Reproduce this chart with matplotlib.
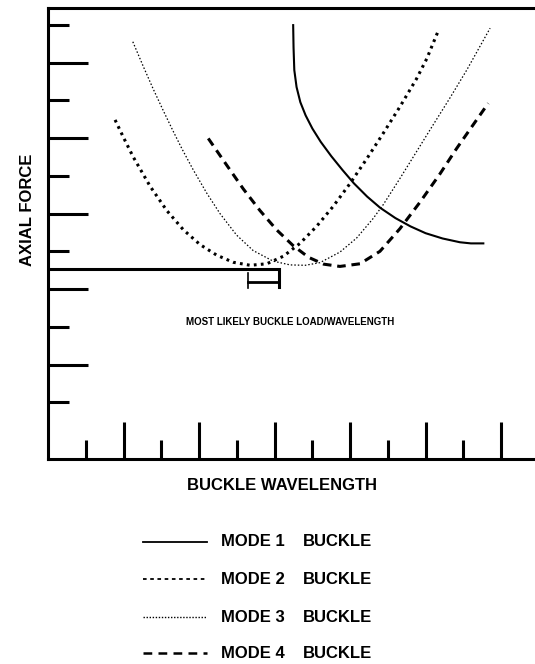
import matplotlib
matplotlib.use('Agg')
import matplotlib.pyplot as plt
from matplotlib.lines import Line2D

plt.rcParams['font.family'] = ['Liberation Sans', 'DejaVu Sans']

# buckle wavelength / axial force for each mode
mode1_x = [6.49, 6.50, 6.52, 6.58, 6.68, 6.82, 7.00, 7.22, 7.50, 7.80, 8.10, 8.45,
           8.80, 9.20, 9.60, 10.00, 10.45, 10.91, 11.20, 11.53]
mode1_y = [11.49, 10.90, 10.30, 9.85, 9.45, 9.10, 8.75, 8.40, 8.02, 7.65, 7.30, 6.95,
           6.65, 6.38, 6.16, 5.98, 5.84, 5.74, 5.71, 5.71]

mode2_x = [1.77, 2.00, 2.25, 2.70, 3.14, 3.58, 4.02, 4.46, 4.90, 5.35, 5.79, 6.23,
           6.67, 7.11, 7.55, 8.00, 8.44, 8.88, 9.32, 9.76, 10.03, 10.34]
mode2_y = [8.98, 8.50, 8.00, 7.22, 6.58, 6.07, 5.68, 5.40, 5.21, 5.13, 5.17, 5.37,
           5.71, 6.16, 6.69, 7.30, 7.95, 8.63, 9.33, 10.07, 10.60, 11.35]

mode3_x = [2.24, 2.52, 2.78, 3.05, 3.30, 3.55, 3.84, 4.20, 4.55, 4.99, 5.43, 5.96,
           6.41, 6.81, 7.20, 7.73, 8.17, 8.61, 8.88, 9.32, 9.76, 10.20, 10.65, 11.09, 11.71]
mode3_y = [11.05, 10.39, 9.80, 9.22, 8.70, 8.20, 7.66, 7.04, 6.50, 5.93, 5.52, 5.24,
           5.14, 5.13, 5.20, 5.48, 5.85, 6.37, 6.74, 7.43, 8.14, 8.85, 9.57, 10.30, 11.41]

mode4_x = [4.24, 4.73, 5.17, 5.61, 6.05, 6.49, 6.90, 7.30, 7.73, 8.26, 8.79, 9.32,
           9.85, 10.38, 10.82, 11.26, 11.66]
mode4_y = [8.49, 7.78, 7.15, 6.58, 6.07, 5.65, 5.34, 5.16, 5.10, 5.17, 5.50, 6.10,
           6.80, 7.55, 8.22, 8.85, 9.42]

# most likely buckle load and the wavelength band that goes with it
likely_load = 5.02
likely_drop = 4.56
likely_band = [5.30, 6.12]
band_level = 4.70
band_lo, band_hi = 4.52, 4.92

legend_labels = ['MODE 1', 'MODE 2', 'MODE 3', 'MODE 4']

W, H = 535, 664
fig = plt.figure(figsize=(W / 100, H / 100), dpi=100)
ax = fig.add_axes([48.3 / W, 1 - 459 / H, 1 - 48.3 / W, (459 - 8) / H])

styles = [
    dict(color='black', lw=1.5, ls='-'),
    dict(color='black', lw=2.2, ls=(0, (0.9, 1.4))),
    dict(color='black', lw=0.9, ls=(0, (1.2, 1.6))),
    dict(color='black', lw=2.2, ls=(0, (2.8, 1.9))),
]
legend_ls = ['-', (0, (2.0, 2.0)), (0, (1.0, 1.2)), (0, (3.5, 2.5))]
legend_lw = [1.3, 1.3, 1.0, 1.8]

for (xs, ys), st in zip([(mode1_x, mode1_y), (mode2_x, mode2_y),
                         (mode3_x, mode3_y), (mode4_x, mode4_y)], styles):
    ax.plot(xs, ys, **st)

# load line and wavelength bracket
ax.plot([0, likely_band[1], likely_band[1]], [likely_load, likely_load, likely_drop],
        color='black', lw=2.2, solid_joinstyle='miter')
ax.plot(likely_band, [band_level, band_level], color='black', lw=2.0)
ax.plot([likely_band[0], likely_band[0]], [band_lo, band_hi], color='black', lw=1.2)

ax.text(6.4, 3.62, 'MOST LIKELY BUCKLE LOAD/WAVELENGTH', fontsize=7,
        fontweight='heavy', ha='center', va='center')

ax.set_xlim(0, (W - 48.3) / 37.73)
ax.set_ylim(0, (459 - 8) / 37.76)

ax.set_xticks(range(2, 13, 2))
ax.set_xticks(range(1, 12, 2), minor=True)
ax.set_yticks([2.5, 4.5, 6.5, 8.5, 10.5])
ax.set_yticks([1.5, 3.5, 5.5, 7.5, 9.5, 11.5], minor=True)
ax.tick_params(axis='x', which='major', direction='in', length=27, width=2.2, labelbottom=False)
ax.tick_params(axis='x', which='minor', direction='in', length=14, width=2.2)
ax.tick_params(axis='y', which='major', direction='in', length=29, width=2.2, labelleft=False)
ax.tick_params(axis='y', which='minor', direction='in', length=15, width=2.2)

for side in ['left', 'top', 'bottom']:
    ax.spines[side].set_linewidth(2.2)
ax.spines['right'].set_visible(False)

fig.text(28 / W, 1 - 210 / H, 'AXIAL FORCE', rotation=90, fontsize=12,
         fontweight='bold', ha='center', va='center')
fig.text(282 / W, 1 - 486 / H, 'BUCKLE WAVELENGTH', fontsize=12,
         fontweight='bold', ha='center', va='center')

# legend drawn by hand: sample line, mode name, "BUCKLE"
rows = [542, 579, 617, 653]
for lab, ls, lw, yp in zip(legend_labels, legend_ls, legend_lw, rows):
    yf = 1 - yp / H
    fig.add_artist(Line2D([143 / W, 207 / W], [yf, yf], transform=fig.transFigure,
                          color='black', lw=lw, ls=ls))
    fig.text(221 / W, yf, lab, fontsize=12, fontweight='bold', ha='left', va='center')
    fig.text(303 / W, yf, 'BUCKLE', fontsize=12, fontweight='bold', ha='left', va='center')

fig.savefig('out.png', dpi=100)
